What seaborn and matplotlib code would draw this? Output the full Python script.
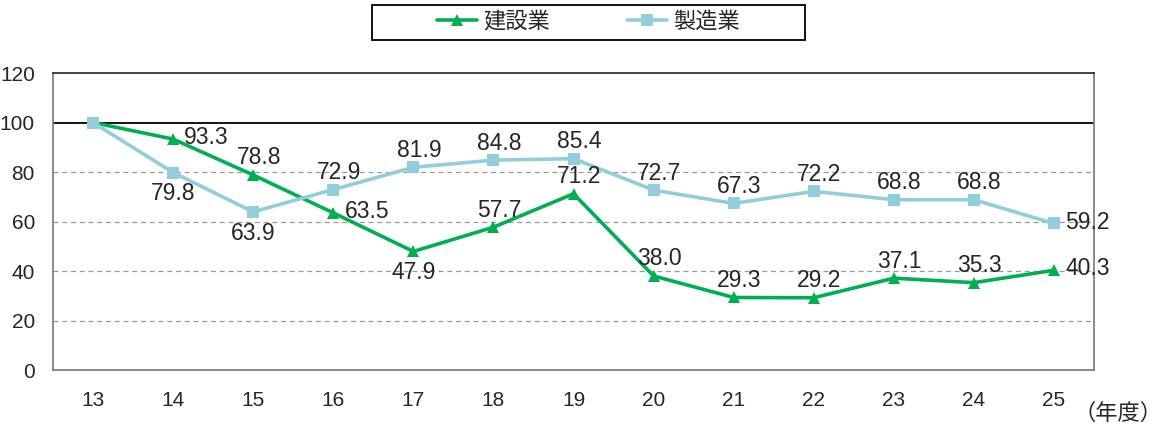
import numpy as np
import pandas as pd
import seaborn as sns
import matplotlib.pyplot as plt
from matplotlib.patches import Rectangle

# === Data ===
years = ["13", "14", "15", "16", "17", "18", "19", "20", "21", "22", "23", "24", "25"]
construction = [100, 93.3, 78.8, 63.5, 47.9, 57.7, 71.2, 38.0, 29.3, 29.2, 37.1, 35.3, 40.3]
manufacturing = [100, 79.8, 63.9, 72.9, 81.9, 84.8, 85.4, 72.7, 67.3, 72.2, 68.8, 68.8, 59.2]
series_names = ["建設業", "製造業"]

# label placement per point: 'a' above, 'b' below, 'r' right, None = no label
construction_pos = [None, "r", "a", "r", "b", "a", "a", "a", "a", "a", "a", "a", "r"]
manufacturing_pos = [None, "b", "b", "a", "a", "a", "a", "a", "a", "a", "a", "a", "r"]

df = pd.DataFrame({
    "year": years * 2,
    "value": construction + manufacturing,
    "series": [series_names[0]] * len(years) + [series_names[1]] * len(years),
})

sns.set_style("white")
plt.rcParams['font.family'] = ['Liberation Sans', 'Noto Sans CJK JP', 'DejaVu Sans']

colors = {"建設業": "#00B050", "製造業": "#92CDDC"}

fig = plt.figure(figsize=(11.62, 4.29), dpi=100)
ax = fig.add_axes([0.0456, 0.1375, 0.8959, 0.6923])

sns.lineplot(data=df, x="year", y="value", hue="series", style="series",
             markers={"建設業": "^", "製造業": "s"}, dashes=False,
             palette=colors, linewidth=2.6, markersize=9, markeredgewidth=0,
             sort=False, ax=ax, hue_order=series_names, style_order=series_names)

ax.set_xlim(-0.5, len(years) - 0.5)
ax.set_ylim(0, 120)
ax.set_yticks(np.arange(0, 121, 20))
for y in [20, 40, 60, 80]:
    ax.axhline(y, color="#999999", lw=0.9, ls=(0, (4, 3)), zorder=0)
ax.axhline(100, color="black", lw=1.3, zorder=1)

for s in ["left", "bottom", "right"]:
    ax.spines[s].set_color("#808080")
    ax.spines[s].set_linewidth(1.3)
ax.spines["top"].set_color("#222222")
ax.spines["top"].set_linewidth(1.2)

ax.tick_params(axis="both", length=0, labelsize=15)
ax.tick_params(axis="x", pad=15)
ax.tick_params(axis="y", pad=13)
ax.set_xlabel("")
ax.set_ylabel("")

def annotate(values, positions):
    for i, (v, p) in enumerate(zip(values, positions)):
        if p is None:
            continue
        if p == "a":
            ax.annotate(f"{v:.1f}", (i, v), xytext=(4, 4), textcoords="offset points",
                        ha="center", va="bottom", fontsize=16.5)
        elif p == "b":
            ax.annotate(f"{v:.1f}", (i, v), xytext=(0, -7), textcoords="offset points",
                        ha="center", va="top", fontsize=16.5)
        else:
            ax.annotate(f"{v:.1f}", (i, v), xytext=(8, 1), textcoords="offset points",
                        ha="left", va="center", fontsize=16.5)

annotate(construction, construction_pos)
annotate(manufacturing, manufacturing_pos)

# legend box drawn separately so the entries sit centred with wide margins
fig.patches.append(Rectangle((0.3201, 0.9068), 0.3726, 0.0816, transform=fig.transFigure,
                             fill=False, edgecolor="black", linewidth=1.3))
leg = ax.legend(loc="center", bbox_to_anchor=(0.5065, 0.9476), bbox_transform=fig.transFigure,
                ncol=2, frameon=False, fontsize=16, columnspacing=3.5,
                handlelength=1.8, handletextpad=0.25, borderaxespad=0)

fig.text(0.962, 0.035, "（年度）", fontsize=16, ha="center", va="center")

fig.savefig("out.png", dpi=100)
